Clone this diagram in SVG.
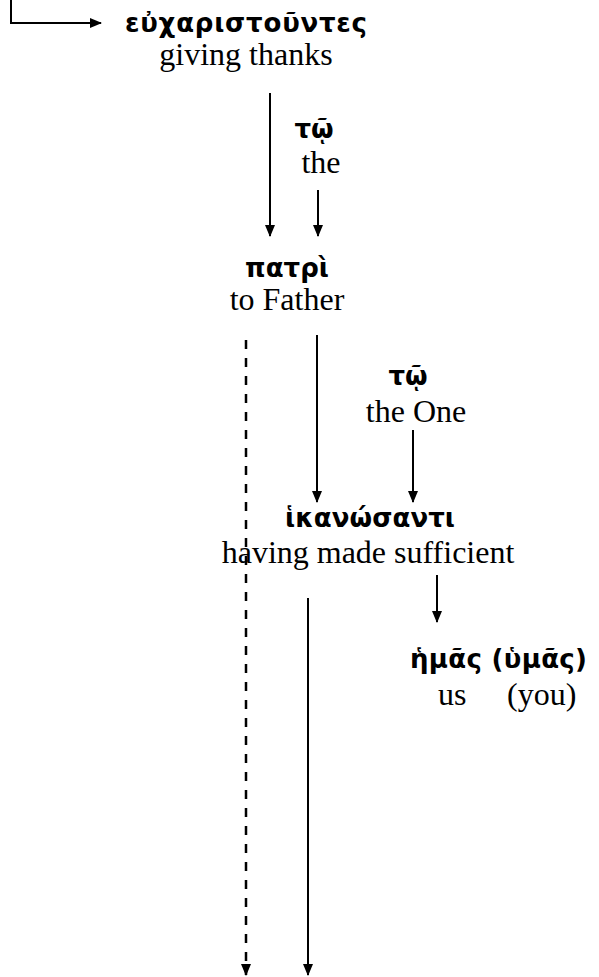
<svg xmlns="http://www.w3.org/2000/svg" width="599" height="977" viewBox="0 0 599 977">
<style>
.gk{font-family:"DejaVu Sans","Noto Sans",sans-serif;font-weight:bold;font-size:26px;fill:#000}
.en{font-family:"Liberation Serif","Times New Roman",serif;font-size:32px;fill:#000}
.ln{stroke:#000;stroke-width:2;fill:none}
.dash{stroke:#000;stroke-width:2.5;fill:none;stroke-dasharray:9 9}
</style>
<defs>
<marker id="ah" markerUnits="userSpaceOnUse" markerWidth="12" markerHeight="12" viewBox="0 0 12 12" refX="11" refY="6" orient="auto">
<path d="M0,1 L12,6 L0,11 Z" fill="#000"/>
</marker>
</defs>
<rect width="599" height="977" fill="#fff"/>
<g id="connectors">
<path class="ln" d="M11,0 V23 H101" marker-end="url(#ah)"/>
<path class="ln" d="M270,93 V236" marker-end="url(#ah)"/>
<path class="ln" d="M318,190 V236" marker-end="url(#ah)"/>
<path class="dash" d="M246,340 V975" marker-end="url(#ah)"/>
<path class="ln" d="M317,335 V502" marker-end="url(#ah)"/>
<path class="ln" d="M413,430 V502" marker-end="url(#ah)"/>
<path class="ln" d="M437,575 V622" marker-end="url(#ah)"/>
<path class="ln" d="M308,598 V975" marker-end="url(#ah)"/>
</g>
<g id="n1">
<text class="gk" x="246" y="32" text-anchor="middle" textLength="242" lengthAdjust="spacing">εὐχαριστοῦντες</text>
<text class="en" x="246" y="65" text-anchor="middle">giving thanks</text>
</g>
<g id="n2">
<text class="gk" x="314" y="138" text-anchor="middle">τῷ</text>
<text class="en" x="321" y="173" text-anchor="middle">the</text>
</g>
<g id="n3">
<text class="gk" x="287" y="277" text-anchor="middle" textLength="84" lengthAdjust="spacing">πατρὶ</text>
<text class="en" x="287" y="310" text-anchor="middle">to Father</text>
</g>
<g id="n4">
<text class="gk" x="408" y="385" text-anchor="middle">τῷ</text>
<text class="en" x="416" y="422" text-anchor="middle">the One</text>
</g>
<g id="n5">
<text class="gk" x="370" y="527" text-anchor="middle" textLength="170" lengthAdjust="spacing">ἱκανώσαντι</text>
<text class="en" x="368" y="563" text-anchor="middle">having made sufficient</text>
</g>
<g id="n6">
<text class="gk" x="410" y="668" textLength="177" lengthAdjust="spacing">ἡμᾶς (ὑμᾶς)</text>
<text class="en" x="438" y="705">us</text>
<text class="en" x="507" y="705">(you)</text>
</g>
</svg>
